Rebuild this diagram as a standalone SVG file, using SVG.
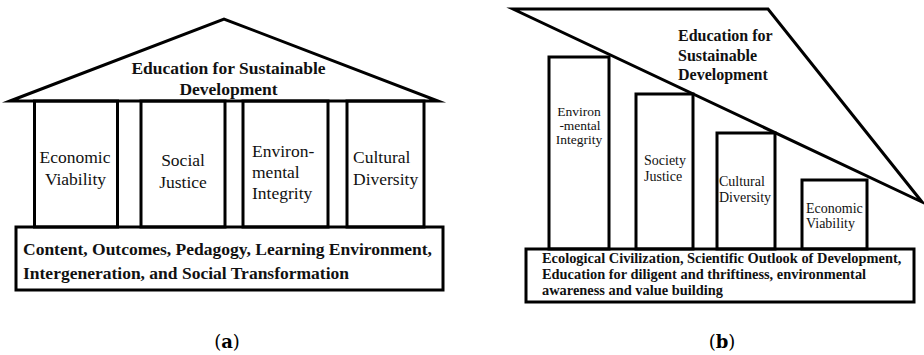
<svg xmlns="http://www.w3.org/2000/svg" width="924" height="355" viewBox="0 0 924 355">
<style>
  .shape { fill: none; stroke: #000; stroke-width: 3; stroke-linejoin: miter; }
  .roof { fill: #fff; stroke: #000; stroke-width: 3; stroke-linejoin: miter; stroke-miterlimit: 10; }
  .t { font-family: 'Liberation Serif', 'DejaVu Serif', serif; fill: #111; }
  .b { font-weight: bold; }
  .la { font-size: 17.5px; }
  .lb { font-size: 14px; }
  .cap { font-family: 'DejaVu Serif', 'Liberation Serif', serif; font-size: 18px; fill: #000; }
</style>
<rect width="924" height="355" fill="#fff"/>

<!-- Diagram (a) -->
<g id="a-roof">
  <polygon class="roof" points="10,101 224,19 438,101"/>
  <text class="t b la" text-anchor="middle" x="228.5" y="73.5">Education for Sustainable</text>
  <text class="t b la" text-anchor="middle" x="228.5" y="95">Development</text>
</g>
<g id="a-economic">
  <rect class="shape" x="34.5" y="101" width="83" height="126"/>
  <text class="t la" text-anchor="middle" x="75" y="163">Economic</text>
  <text class="t la" text-anchor="middle" x="75.5" y="185">Viability</text>
</g>
<g id="a-social">
  <rect class="shape" x="141" y="101" width="84" height="126"/>
  <text class="t la" text-anchor="middle" x="183" y="166">Social</text>
  <text class="t la" text-anchor="middle" x="183" y="188">Justice</text>
</g>
<g id="a-environmental">
  <rect class="shape" x="243" y="101" width="85" height="126"/>
  <text class="t la" x="252" y="157">Environ-</text>
  <text class="t la" x="252" y="178">mental</text>
  <text class="t la" x="252" y="199">Integrity</text>
</g>
<g id="a-cultural">
  <rect class="shape" x="347" y="101" width="77" height="126"/>
  <text class="t la" x="353" y="163">Cultural</text>
  <text class="t la" x="353" y="185">Diversity</text>
</g>
<g id="a-base">
  <rect class="shape" x="16" y="227" width="427" height="63"/>
  <text class="t b la" x="23" y="255">Content, Outcomes, Pedagogy, Learning Environment,</text>
  <text class="t b la" x="23" y="279">Intergeneration, and Social Transformation</text>
</g>

<!-- Diagram (b) -->
<g id="b-roof">
  <polygon class="roof" points="513,9 768,9 922,202"/>
  <text class="t b" font-size="16" x="678" y="40.5">Education for</text>
  <text class="t b" font-size="16" x="678" y="60.5">Sustainable</text>
  <text class="t b" font-size="16" x="678" y="80">Development</text>
</g>
<g id="b-environmental">
  <rect class="shape" x="549" y="57" width="60" height="192"/>
  <text class="t" font-size="13.5" text-anchor="middle" x="579" y="116">Environ</text>
  <text class="t" font-size="13.5" text-anchor="middle" x="580" y="130">-mental</text>
  <text class="t" font-size="13.5" text-anchor="middle" x="579" y="144">Integrity</text>
</g>
<g id="b-society">
  <rect class="shape" x="636" y="94" width="57" height="155"/>
  <text class="t lb" x="644" y="165">Society</text>
  <text class="t lb" x="644" y="181">Justice</text>
</g>
<g id="b-cultural">
  <rect class="shape" x="717" y="133" width="58" height="116"/>
  <text class="t lb" x="719" y="186">Cultural</text>
  <text class="t lb" x="719" y="202">Diversity</text>
</g>
<g id="b-economic">
  <rect class="shape" x="802" y="180" width="65" height="69"/>
  <text class="t lb" x="806" y="213">Economic</text>
  <text class="t lb" x="806" y="228">Viability</text>
</g>
<g id="b-base">
  <rect class="shape" x="526" y="249" width="388" height="53"/>
  <text class="t b" font-size="14.4" x="542" y="263">Ecological Civilization, Scientific Outlook of Development,</text>
  <text class="t b" font-size="14.4" x="542" y="279">Education for diligent and thriftiness, environmental</text>
  <text class="t b" font-size="14.4" x="542" y="295">awareness and value building</text>
</g>

<g id="connectors"></g>

<!-- Captions -->
<text class="cap" text-anchor="middle" x="227" y="348">(<tspan font-weight="bold">a</tspan>)</text>
<text class="cap" text-anchor="middle" x="722" y="348">(<tspan font-weight="bold">b</tspan>)</text>
</svg>
